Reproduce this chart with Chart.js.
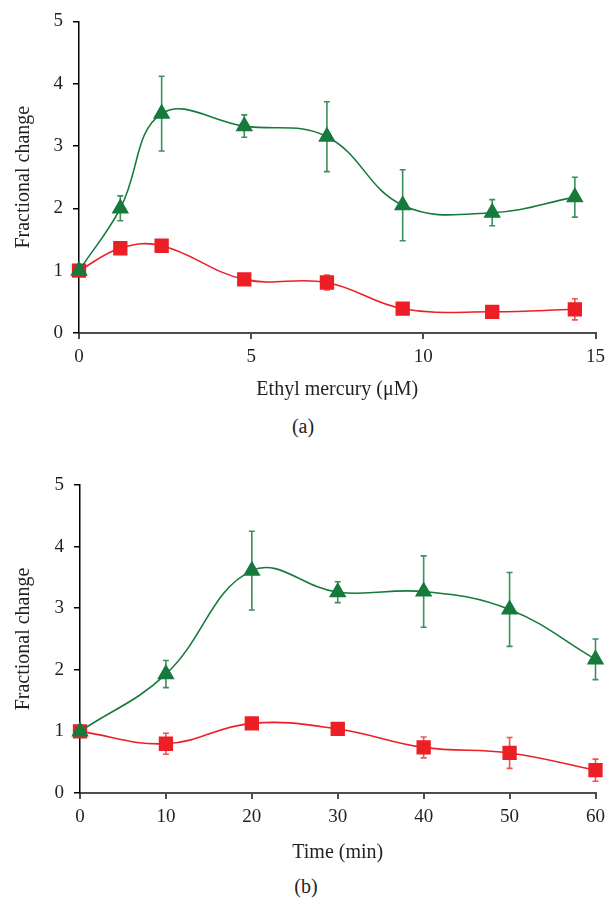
<!DOCTYPE html>
<html>
<head>
<meta charset="utf-8">
<script src="https://cdn.jsdelivr.net/npm/chart.js@4.4.1/dist/chart.umd.min.js"></script>
<style>
  body { margin: 0; background: #fff; }
  #wrap { position: relative; width: 612px; height: 899px; }
  canvas { position: absolute; left: 0; }
  .cap { position: absolute; width: 60px; text-align: center; font-family: "Liberation Serif", serif; font-size: 20px; line-height: 24px; color: #231f20; }
</style>
</head>
<body>
<div id="wrap">
  <canvas id="chartA" width="612" height="405" style="top:0"></canvas>
  <canvas id="chartB" width="612" height="416" style="top:450px"></canvas>
  <div class="cap" style="left:273px; top:414px">(a)</div>
  <div class="cap" style="left:276px; top:874px">(b)</div>
</div>
<script>
// panel (a): dose response
var doseUM = [0, 1.2, 2.4, 4.8, 7.2, 9.4, 12, 14.4];
var doseGreen = [1.0, 2.0, 3.52, 3.32, 3.15, 2.05, 1.93, 2.18];
var doseGreenErr = [0, 0.2, 0.6, 0.18, 0.56, 0.57, 0.21, 0.32];
var doseRed = [1.0, 1.36, 1.40, 0.86, 0.81, 0.39, 0.34, 0.38];
var doseRedErr = [0, 0.03, 0.03, 0.07, 0.12, 0.06, 0.03, 0.17];

// panel (b): time course
var timeMin = [0, 10, 20, 30, 40, 50, 60];
var timeGreen = [1.0, 1.93, 3.61, 3.26, 3.27, 2.98, 2.17];
var timeGreenErr = [0, 0.22, 0.64, 0.17, 0.58, 0.6, 0.33];
var timeRed = [1.0, 0.80, 1.13, 1.04, 0.74, 0.65, 0.37];
var timeRedErr = [0, 0.17, 0.03, 0.07, 0.17, 0.25, 0.18];

var yTitle = 'Fractional change';

var GREEN = '#167a3c';
var GREEN_BAR = '#3d8f5c';
var RED = '#ec1f26';
var RED_BAR = '#ef5257';
var INK = '#231f20';
var TICK_FONT = { family: '"Liberation Serif", serif', size: 19 };
var TITLE_FONT = { family: '"Liberation Serif", serif', size: 20 };

function points(xs, ys) {
  return xs.map(function(x, i) { return { x: x, y: ys[i] }; });
}

// vertical error bars drawn with the chart's own scales
var errorBars = {
  id: 'errorBars',
  beforeDatasetsDraw: function(chart) {
    var ctx = chart.ctx;
    var xs = chart.scales.x, ys = chart.scales.y;
    chart.data.datasets.forEach(function(ds) {
      ctx.save();
      ctx.strokeStyle = ds.barColor;
      ctx.lineWidth = 1.6;
      ds.data.forEach(function(p, i) {
        var e = ds.errors[i];
        if (!e) return;
        var px = xs.getPixelForValue(p.x);
        var top = ys.getPixelForValue(p.y + e);
        var bot = ys.getPixelForValue(p.y - e);
        ctx.beginPath();
        ctx.moveTo(px, top); ctx.lineTo(px, bot);
        ctx.moveTo(px - 3, top); ctx.lineTo(px + 3, top);
        ctx.moveTo(px - 3, bot); ctx.lineTo(px + 3, bot);
        ctx.stroke();
      });
      ctx.restore();
    });
  }
};

function makeChart(id, xs, green, greenErr, red, redErr, xMax, xStep, xTitle, pad, xAxisHeight, yAxisWidth, titleBottom) {
  return new Chart(document.getElementById(id), {
    type: 'line',
    data: {
      datasets: [
        { data: points(xs, green), errors: greenErr, barColor: GREEN_BAR,
          borderColor: GREEN, backgroundColor: GREEN, borderWidth: 1.6,
          pointStyle: 'triangle', pointRadius: 8.5, tension: 0.4, clip: false },
        { data: points(xs, red), errors: redErr, barColor: RED_BAR,
          borderColor: RED, backgroundColor: RED, borderWidth: 1.6,
          pointStyle: 'rect', pointRadius: 9, tension: 0.4, clip: false }
      ]
    },
    options: {
      responsive: false,
      animation: false,
      devicePixelRatio: 1,
      layout: { padding: pad },
      plugins: { legend: { display: false }, tooltip: { enabled: false } },
      scales: {
        x: {
          type: 'linear', min: 0, max: xMax,
          ticks: { stepSize: xStep, color: INK, font: TICK_FONT, padding: 7 },
          grid: { drawOnChartArea: false, drawTicks: true, tickLength: 6, color: '#4d4d4d', lineWidth: 2 },
          border: { color: '#4d4d4d', width: 2 },
          title: { display: true, text: xTitle, color: INK, font: TITLE_FONT, padding: { top: 0, bottom: titleBottom } },
          afterFit: function(scale) { scale.height = xAxisHeight; }
        },
        y: {
          min: 0, max: 5,
          ticks: { stepSize: 1, color: INK, font: TICK_FONT, padding: 10 },
          grid: { drawOnChartArea: false, drawTicks: true, tickLength: 6, color: '#000', lineWidth: 1.5 },
          border: { color: '#000', width: 1.5 },
          title: { display: true, text: yTitle, color: INK, font: TITLE_FONT, padding: { top: 12, bottom: 0 } },
          afterFit: function(scale) { scale.width = yAxisWidth; }
        }
      }
    },
    plugins: [errorBars]
  });
}

makeChart('chartA', doseUM, doseGreen, doseGreenErr, doseRed, doseRedErr,
  15, 5, 'Ethyl mercury (\u03bcM)', { left: 0, right: 10, top: 21, bottom: 0 }, 72, 79, 3);
makeChart('chartB', timeMin, timeGreen, timeGreenErr, timeRed, timeRedErr,
  60, 10, 'Time (min)', { left: 0, right: 15, top: 35, bottom: 0 }, 73, 80, 1);
</script>
</body>
</html>
